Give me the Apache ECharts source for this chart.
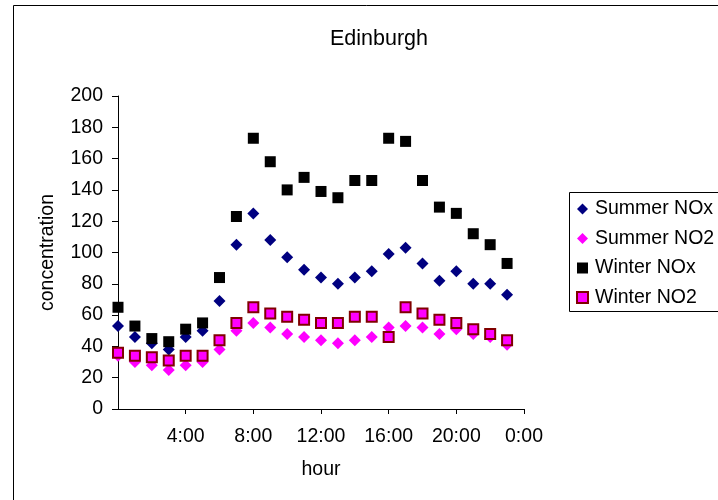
<!DOCTYPE html>
<html>
<head>
<meta charset="utf-8">
<script src="https://cdn.jsdelivr.net/npm/echarts@6/dist/echarts.min.js"></script>
<style>
  html, body { margin: 0; padding: 0; background: #fff; }
  #chart { width: 718px; height: 500px; }
</style>
</head>
<body>
<div id="chart"></div>
<script>
// Hour of day for each reading
const hours = [0, 1, 2, 3, 4, 5, 6, 7, 8, 9, 10, 11, 12, 13, 14, 15, 16, 17, 18, 19, 20, 21, 22, 23];

// Mean concentrations by hour
const summerNOx = [53, 46, 42, 38, 46, 50, 69, 105, 125, 108, 97, 89, 84, 80, 84, 88, 99, 103, 93, 82, 88, 80, 80, 73];
const summerNO2 = [34, 30, 28, 25, 28, 30, 38, 50, 55, 52, 48, 46, 44, 42, 44, 46, 52, 53, 52, 48, 51, 48, 46, 41];
const winterNOx = [65, 53, 45, 43, 51, 55, 84, 123, 173, 158, 140, 148, 139, 135, 146, 146, 173, 171, 146, 129, 125, 112, 105, 93];
const winterNO2 = [36, 34, 33, 31, 34, 34, 44, 55, 65, 61, 59, 57, 55, 55, 59, 59, 46, 65, 61, 57, 55, 51, 48, 44];

const seriesNames = ['Summer NOx', 'Summer NO2', 'Winter NOx', 'Winter NO2'];

const FONT = 'Liberation Sans, Arial, sans-serif';
const LABEL_SIZE = 19.5;
const pair = (vals) => hours.map((h, i) => [h, vals[i]]);

const chart = echarts.init(document.getElementById('chart'), null, { renderer: 'canvas' });

chart.setOption({
  animation: false,
  backgroundColor: '#ffffff',
  title: {
    text: 'Edinburgh',
    left: 374,
    top: 23,
    textAlign: 'center',
    textStyle: { fontFamily: FONT, fontSize: 21.5, fontWeight: 'normal', color: '#000' }
  },
  graphic: [
    {
      type: 'rect',
      shape: { x: 13.5, y: 5.5, width: 800, height: 600 },
      style: { fill: 'none', stroke: '#000', lineWidth: 1 },
      z: -1
    },
    {
      type: 'rect',
      shape: { x: 569.5, y: 192.5, width: 300, height: 119 },
      style: { fill: '#fff', stroke: '#000', lineWidth: 1 },
      z: 0
    }
  ],
  legend: {
    orient: 'vertical',
    left: 576,
    top: 199,
    itemWidth: 11,
    itemHeight: 11,
    itemGap: 9.5,
    padding: 0,
    textStyle: { fontFamily: FONT, fontSize: LABEL_SIZE, color: '#000', padding: [0, 0, 0, 2] },
    data: seriesNames,
    z: 5
  },
  grid: { left: 118, top: 96, right: 194, bottom: 91, containLabel: false },
  xAxis: {
    type: 'value',
    min: 0,
    max: 24,
    interval: 4,
    name: 'hour',
    nameLocation: 'middle',
    nameGap: 51,
    nameTextStyle: { fontFamily: FONT, fontSize: LABEL_SIZE, color: '#000' },
    axisLine: { show: true, lineStyle: { color: '#000', width: 1 } },
    axisTick: { show: true, inside: false, length: 5, lineStyle: { color: '#000' } },
    axisLabel: {
      showMinLabel: false,
      margin: 18,
      fontFamily: FONT, fontSize: LABEL_SIZE, color: '#000',
      formatter: (v) => (v % 24) + ':00'
    },
    splitLine: { show: false }
  },
  yAxis: {
    type: 'value',
    min: 0,
    max: 200,
    interval: 20,
    name: 'concentration',
    nameLocation: 'middle',
    nameRotate: 90,
    nameGap: 60,
    nameTextStyle: { fontFamily: FONT, fontSize: LABEL_SIZE, color: '#000' },
    axisLine: { show: true, lineStyle: { color: '#000', width: 1 } },
    axisTick: { show: true, inside: false, length: 6, lineStyle: { color: '#000' } },
    axisLabel: { margin: 15, fontFamily: FONT, fontSize: LABEL_SIZE, color: '#000' },
    splitLine: { show: false }
  },
  series: [
    {
      name: seriesNames[0], type: 'scatter', symbol: 'diamond', symbolSize: 12,
      itemStyle: { color: '#000080', opacity: 1 },
      data: pair(summerNOx)
    },
    {
      name: seriesNames[1], type: 'scatter', symbol: 'diamond', symbolSize: 12,
      itemStyle: { color: '#ff00ff', opacity: 1 },
      data: pair(summerNO2)
    },
    {
      name: seriesNames[2], type: 'scatter', symbol: 'rect', symbolSize: 11,
      itemStyle: { color: '#000000', opacity: 1 },
      data: pair(winterNOx)
    },
    {
      name: seriesNames[3], type: 'scatter', symbol: 'rect', symbolSize: 10,
      itemStyle: { color: '#ff00ff', borderColor: '#800000', borderWidth: 2, opacity: 1 },
      data: pair(winterNO2)
    }
  ]
});
</script>
</body>
</html>
